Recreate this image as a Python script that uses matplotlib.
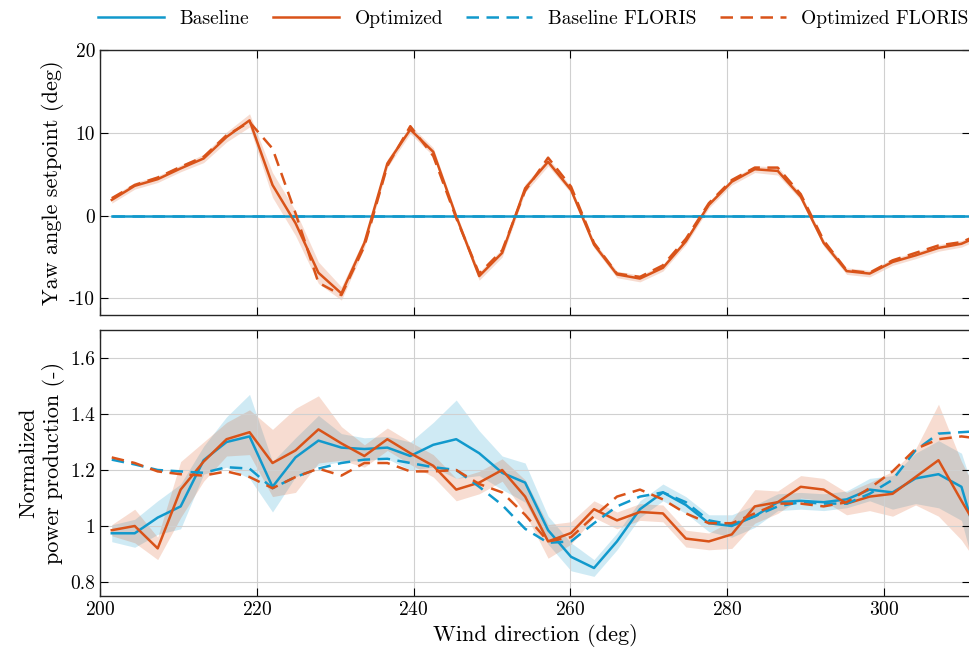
import numpy as np
import matplotlib
matplotlib.use("Agg")
import matplotlib.pyplot as plt

plt.rcParams['font.family'] = 'serif'
plt.rcParams['font.serif'] = ['cmr10', 'DejaVu Serif']
plt.rcParams['mathtext.fontset'] = 'cm'
plt.rcParams['axes.formatter.use_mathtext'] = True

wind_dir = 201.5 + 2.93 * np.arange(39)

# yaw setpoints (deg)
yaw_opt = [1.9, 3.6, 4.4, 5.7, 6.9, 9.5, 11.5, 3.7, -0.9, -6.9, -9.4, -3.3, 6.3, 10.4, 7.7, -0.1, -7.3, -4.5, 3.3,
           6.5, 3.1, -3.5, -7.1, -7.6, -6.3, -3.1, 1.3, 4.1, 5.6, 5.4, 2.3, -3.3, -6.7, -7.0, -5.6, -4.8, -3.9, -3.4, -2.2]
yaw_opt_floris = [2.1, 3.7, 4.6, 5.9, 7.1, 9.7, 11.3, 8.1, 0.3, -8.1, -9.6, -3.7, 6.0, 10.8, 7.2, -0.3, -7.0, -4.2, 3.0,
                  7.0, 3.5, -3.3, -7.0, -7.4, -6.0, -2.8, 1.5, 4.3, 5.8, 5.8, 2.6, -3.0, -6.6, -6.9, -5.4, -4.5, -3.6, -3.2, -2.0]
yaw_band = [0.4, 0.4, 0.4, 0.4, 0.5, 0.6, 0.8, 1.5, 1.5, 1.3, 0.8, 0.6, 0.5, 0.5, 0.5, 0.4, 0.5, 0.5, 0.5,
            0.5, 0.4, 0.4, 0.4, 0.4, 0.4, 0.4, 0.4, 0.4, 0.4, 0.5, 0.4, 0.4, 0.4, 0.4, 0.4, 0.4, 0.4, 0.4, 0.4]
yaw_ticks = [-10, 0, 10, 20]
yaw_tick_labels = ['-10', '0', '10', '20']

# normalized power production
pow_base = [0.974, 0.974, 1.03, 1.07, 1.235, 1.30, 1.32, 1.14, 1.245, 1.305, 1.28, 1.275, 1.28, 1.25, 1.29, 1.31, 1.26, 1.19, 1.155,
            0.985, 0.89, 0.85, 0.945, 1.06, 1.12, 1.075, 1.01, 1.0, 1.035, 1.085, 1.09, 1.085, 1.095, 1.13, 1.12, 1.17, 1.185, 1.14, 0.86]
pow_opt = [0.985, 1.0, 0.92, 1.13, 1.23, 1.31, 1.335, 1.225, 1.27, 1.345, 1.295, 1.25, 1.31, 1.26, 1.215, 1.13, 1.155, 1.2, 1.105,
           0.945, 0.975, 1.06, 1.02, 1.05, 1.045, 0.955, 0.945, 0.97, 1.07, 1.085, 1.14, 1.13, 1.08, 1.105, 1.115, 1.175, 1.235, 1.09, 0.95]
pow_base_floris = [1.237, 1.22, 1.20, 1.195, 1.19, 1.21, 1.205, 1.135, 1.175, 1.205, 1.225, 1.237, 1.24, 1.225, 1.21, 1.2, 1.14, 1.075, 0.99,
                   0.94, 0.945, 1.01, 1.07, 1.105, 1.12, 1.085, 1.02, 1.005, 1.035, 1.07, 1.085, 1.08, 1.08, 1.115, 1.165, 1.27, 1.33, 1.335, 1.34]
pow_opt_floris = [1.245, 1.225, 1.195, 1.185, 1.18, 1.195, 1.175, 1.135, 1.175, 1.205, 1.18, 1.225, 1.225, 1.195, 1.195, 1.2, 1.15, 1.12, 1.04,
                  0.945, 0.96, 1.035, 1.105, 1.13, 1.095, 1.045, 1.01, 1.01, 1.045, 1.08, 1.08, 1.07, 1.085, 1.135, 1.195, 1.275, 1.31, 1.32, 1.31]
band_base = [0.03, 0.05, 0.06, 0.08, 0.05, 0.09, 0.15, 0.09, 0.07, 0.09, 0.05, 0.04, 0.04, 0.05, 0.08, 0.14, 0.08, 0.06, 0.07,
             0.05, 0.05, 0.03, 0.03, 0.03, 0.03, 0.03, 0.03, 0.04, 0.04, 0.03, 0.03, 0.03, 0.03, 0.04, 0.06, 0.09, 0.12, 0.12, 0.15]
band_opt = [0.02, 0.06, 0.04, 0.10, 0.07, 0.06, 0.08, 0.12, 0.15, 0.12, 0.06, 0.04, 0.04, 0.04, 0.04, 0.04, 0.04, 0.04, 0.06,
            0.06, 0.04, 0.03, 0.03, 0.03, 0.03, 0.03, 0.03, 0.05, 0.06, 0.04, 0.04, 0.04, 0.04, 0.05, 0.08, 0.10, 0.20, 0.14, 0.12]
pow_ticks = [0.8, 1.0, 1.2, 1.4, 1.6]
pow_tick_labels = ['0.8', '1', '1.2', '1.4', '1.6']
dir_ticks = [200, 220, 240, 260, 280, 300]

blue = '#1199cc'
orange = '#d95319'

fig = plt.figure(figsize=(9.7, 6.54), dpi=100)
ax1 = fig.add_axes([100/970, 1-315/654, 870/970, 265/654])
ax2 = fig.add_axes([100/970, 1-596/654, 870/970, 266/654])

x = wind_dir
yo = np.array(yaw_opt)
yb = np.array(yaw_band)
ax1.fill_between(x, yo - yb, yo + yb, color=orange, alpha=0.2, lw=0)
ax1.plot(x, np.zeros_like(x), color=blue, lw=1.8, label='Baseline')
ax1.plot(x, yo, color=orange, lw=1.8, label='Optimized')
ax1.plot(x, np.zeros_like(x), color=blue, lw=1.8, ls=(0, (5, 3)), label='Baseline FLORIS')
ax1.plot(x, yaw_opt_floris, color=orange, lw=1.8, ls=(0, (5, 3)), label='Optimized FLORIS')
ax1.set_xlim(200, 311)
ax1.set_ylim(-12, 20)
ax1.set_yticks(yaw_ticks)
ax1.set_yticklabels(yaw_tick_labels)
ax1.set_xticks(dir_ticks)
ax1.set_xticklabels([])
ax1.set_ylabel('Yaw angle setpoint (deg)', fontsize=16)

pb, po = np.array(pow_base), np.array(pow_opt)
bb, bo = np.array(band_base), np.array(band_opt)
ax2.fill_between(x, pb - bb, pb + bb, color=blue, alpha=0.2, lw=0)
ax2.fill_between(x, po - bo, po + bo, color=orange, alpha=0.2, lw=0)
ax2.plot(x, pb, color=blue, lw=1.8)
ax2.plot(x, po, color=orange, lw=1.8)
ax2.plot(x, pow_base_floris, color=blue, lw=1.8, ls=(0, (5, 3)))
ax2.plot(x, pow_opt_floris, color=orange, lw=1.8, ls=(0, (5, 3)))
ax2.set_xlim(200, 311)
ax2.set_ylim(0.75, 1.7)
ax2.set_yticks(pow_ticks)
ax2.set_yticklabels(pow_tick_labels)
ax2.set_xticks(dir_ticks)
ax2.set_xlabel('Wind direction (deg)', fontsize=16)
ax2.set_ylabel('Normalized\npower production (-)', fontsize=16)

for ax in (ax1, ax2):
    ax.grid(True, color='#d0d0d0', lw=0.8)
    ax.tick_params(direction='in', top=True, right=True, labelsize=14, length=6)
    for s in ax.spines.values():
        s.set_linewidth(1.0)
        s.set_color('#262626')

fig.legend(loc='upper center', bbox_to_anchor=(0.55, 1.012), ncol=4, frameon=False,
           fontsize=14, handlelength=3.4, columnspacing=1.2)
fig.savefig('out.png', dpi=100)
